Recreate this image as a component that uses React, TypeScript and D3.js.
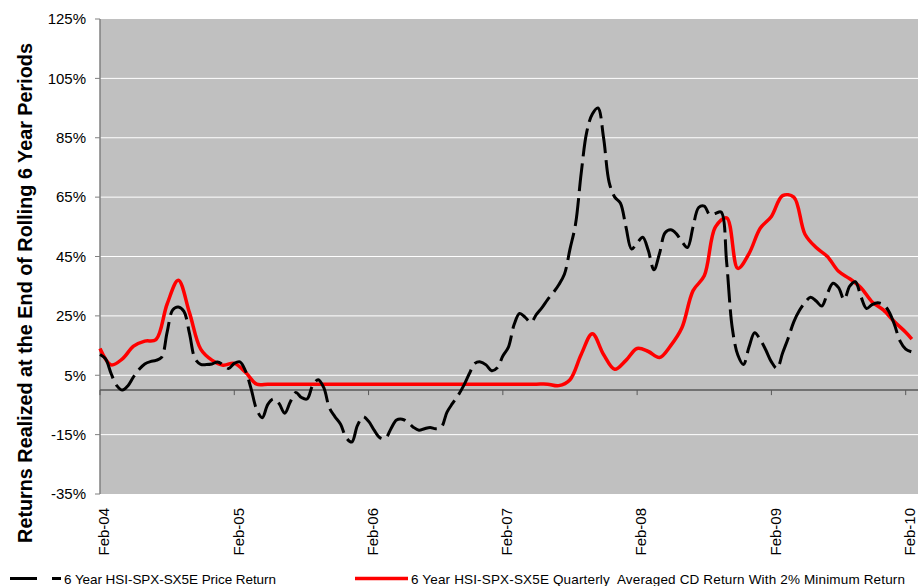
import React from "react";
import { useEffect, useRef } from "react";
import * as d3 from "d3";

// half-month points, index 0 = Feb-04
const priceReturn = [
  12, 10.5, 5.5, 1.5, 0, 1.5, 4.5, 7, 8.8, 9.6, 10, 11,
  19.5, 27, 28, 26.5, 19, 10.5, 8.7, 8.6, 8.8, 9.5, 8.5, 7.3,
  9, 9.5, 6.5, 0.5, -6.5, -9.3, -4.8, -3, -4.5, -7.8, -4, -0.8,
  -2.5, -3, 1.5, 3.5, 0.8, -6, -9, -11.5, -16, -17.5, -12, -9,
  -10.5, -13.5, -16, -16.3, -13, -10.1, -9.8, -10.8, -12.5, -13.5, -13, -12.6,
  -13, -12.5, -7.5, -4.5, -1.8, 1.5, 5.5, 9, 9.5, 8.5, 6.5, 7.5,
  11.5, 14.5, 22, 25.8, 24.5, 22.8, 25.5, 27.8, 30.5, 32.8, 35.5, 39,
  47.5, 56, 73, 87, 93, 95, 85, 70, 65, 63, 55, 47.5,
  49.5, 51.5, 47, 40.5, 46, 53, 54, 52.7, 50, 48, 55, 61.5,
  62, 59, 59.5, 60, 43, 21, 11.8, 8.6, 14.5, 19.3, 17, 13.5,
  9.5, 7.3, 12.5, 17.5, 23, 26.8, 29.5, 31.3, 30, 28.3, 32.5, 36,
  34.5, 30.5, 35, 36.5, 31.5, 27.5, 28.8, 29.4, 28.8, 26.5, 22, 16.5,
  13.8, 12.9,
];

// monthly points, index 0 = Feb-04
const cdReturn = [
  14, 8.5, 10.5, 14.8, 16.5, 17, 29, 37, 26, 13.8, 10.1, 8.4,
  9, 6, 2, 2, 2, 2, 2, 2, 2, 2, 2, 2,
  2, 2, 2, 2, 2, 2, 2, 2, 2, 2, 2, 2,
  2, 2, 2, 2, 2, 1.5, 3.5, 12, 19, 12, 7, 10,
  14, 13, 11, 15, 21, 33.5, 38.5, 55, 58, 41, 46, 54.5,
  58.5, 65.5, 65, 52.5, 48, 45, 40, 37.5, 34.5, 29.7, 27, 23,
  19.5, 17.2,
];

// the last red point sits about half a month past Feb-10
const cdLastStep = 0.55;

const yTicks = [125, 105, 85, 65, 45, 25, 5, -15, -35];
const xTickLabels = ["Feb-04", "Feb-05", "Feb-06", "Feb-07", "Feb-08", "Feb-09", "Feb-10"];

const seriesNames = [
  "6 Year HSI-SPX-SX5E Price Return",
  "6 Year HSI-SPX-SX5E Quarterly  Averaged CD Return With 2% Minimum Return",
];

const FONT = "'Liberation Sans', Arial, sans-serif";

const App = () => {
  const svgRef = useRef<SVGSVGElement | null>(null);

  useEffect(() => {
    const w = 919;
    const h = 586;
    const left = 100;
    const right = 918;
    const top = 19;
    const bottom = 494;

    const svg = d3.select(svgRef.current).attr("width", w).attr("height", h);
    svg.selectAll("*").remove();

    const xScale = d3.scaleLinear().domain([0, 73.1]).range([left, right]);
    const yScale = d3.scaleLinear().domain([-35, 125]).range([bottom, top]);

    svg
      .append("rect")
      .attr("x", left)
      .attr("y", top)
      .attr("width", right - left)
      .attr("height", bottom - top)
      .attr("fill", "#C0C0C0");

    // gridlines
    svg
      .selectAll(".grid")
      .data(yTicks.filter((d) => d !== 125 && d !== -35))
      .join("line")
      .attr("x1", left)
      .attr("x2", right)
      .attr("y1", (d) => yScale(d))
      .attr("y2", (d) => yScale(d))
      .attr("stroke", "#FFFFFF")
      .attr("stroke-width", 1);

    // y axis
    svg
      .append("line")
      .attr("x1", left)
      .attr("x2", left)
      .attr("y1", top)
      .attr("y2", bottom)
      .attr("stroke", "#808080")
      .attr("stroke-width", 1.5);

    svg
      .selectAll(".ytick")
      .data(yTicks)
      .join("line")
      .attr("x1", left - 5)
      .attr("x2", left)
      .attr("y1", (d) => yScale(d))
      .attr("y2", (d) => yScale(d))
      .attr("stroke", "#808080")
      .attr("stroke-width", 1);

    svg
      .selectAll(".ylab")
      .data(yTicks)
      .join("text")
      .attr("x", 86)
      .attr("y", (d) => yScale(d))
      .attr("dy", "0.35em")
      .attr("text-anchor", "end")
      .style("font-family", FONT)
      .style("font-size", "15px")
      .attr("fill", "#000")
      .text((d) => d + "%");

    // zero axis
    svg
      .append("line")
      .attr("x1", left)
      .attr("x2", right)
      .attr("y1", yScale(0))
      .attr("y2", yScale(0))
      .attr("stroke", "#585858")
      .attr("stroke-width", 1.5);

    svg
      .selectAll(".xtick")
      .data(xTickLabels)
      .join("line")
      .attr("x1", (d, i) => xScale(i * 12))
      .attr("x2", (d, i) => xScale(i * 12))
      .attr("y1", yScale(0))
      .attr("y2", yScale(0) + 5)
      .attr("stroke", "#585858")
      .attr("stroke-width", 1);

    svg
      .selectAll(".xlab")
      .data(xTickLabels)
      .join("text")
      .attr("transform", (d, i) => `translate(${xScale(i * 12) + 4},508) rotate(-90)`)
      .attr("dy", "0.35em")
      .attr("text-anchor", "end")
      .style("font-family", FONT)
      .style("font-size", "15px")
      .attr("fill", "#000")
      .text((d) => d);

    // y title
    svg
      .append("text")
      .attr("transform", `translate(32,293) rotate(-90)`)
      .attr("text-anchor", "middle")
      .style("font-family", FONT)
      .style("font-size", "19.8px")
      .style("font-weight", "bold")
      .attr("fill", "#000")
      .text("Returns Realized at the End of Rolling 6 Year Periods");

    const cdLine = d3
      .line<number>()
      .x((d, i) => (i === cdReturn.length - 1 ? xScale(i - 1 + cdLastStep) : xScale(i)))
      .y((d) => yScale(d))
      .curve(d3.curveCatmullRom);

    const priceLine = d3
      .line<number>()
      .x((d, i) => xScale(i / 2))
      .y((d) => yScale(d))
      .curve(d3.curveCatmullRom);

    svg
      .append("path")
      .attr("d", cdLine(cdReturn))
      .attr("fill", "none")
      .attr("stroke", "#FF0000")
      .attr("stroke-width", 3.5)
      .attr("stroke-linejoin", "round");

    svg
      .append("path")
      .attr("d", priceLine(priceReturn))
      .attr("fill", "none")
      .attr("stroke", "#000000")
      .attr("stroke-width", 3)
      .attr("stroke-dasharray", "28 7");

    // legend
    svg
      .append("line")
      .attr("x1", 10)
      .attr("x2", 61)
      .attr("y1", 578.5)
      .attr("y2", 578.5)
      .attr("stroke", "#000")
      .attr("stroke-width", 3)
      .attr("stroke-dasharray", "27 15");

    svg
      .append("line")
      .attr("x1", 355)
      .attr("x2", 408)
      .attr("y1", 578.5)
      .attr("y2", 578.5)
      .attr("stroke", "#FF0000")
      .attr("stroke-width", 3.5);

    svg
      .selectAll(".legtext")
      .data(seriesNames)
      .join("text")
      .attr("x", (d, i) => (i === 0 ? 64 : 411))
      .attr("y", 584)
      .attr("textLength", (d, i) => (i === 0 ? 212 : 494))
      .attr("lengthAdjust", "spacing")
      .style("font-family", FONT)
      .style("font-size", "13.5px")
      .style("white-space", "pre")
      .attr("fill", "#000")
      .text((d) => d);
  }, []);

  return (
    <div style={{ position: "absolute", left: 0, top: 0 }}>
      <svg ref={svgRef} style={{ display: "block" }}></svg>
    </div>
  );
};

export default App;
